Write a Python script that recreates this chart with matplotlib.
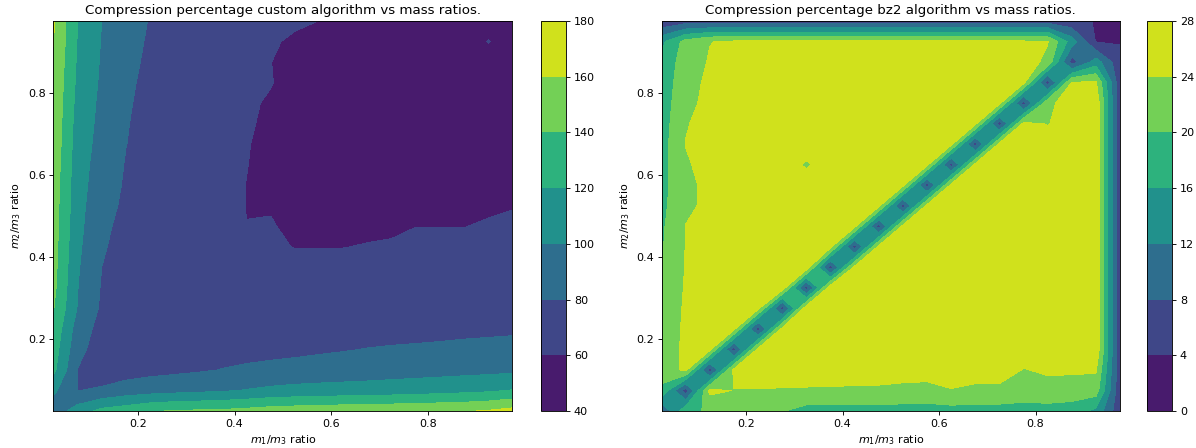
# Contour maps of compression percentage against mass ratios
import numpy as np
import matplotlib.pyplot as plt

# grid of mass ratios: m1/m3 along x, m2/m3 along y
m1_ratio = [0.025, 0.075, 0.125, 0.175, 0.225, 0.275, 0.325, 0.375, 0.425, 0.475,
            0.525, 0.575, 0.625, 0.675, 0.725, 0.775, 0.825, 0.875, 0.925, 0.975]
m2_ratio = [0.025, 0.075, 0.125, 0.175, 0.225, 0.275, 0.325, 0.375, 0.425, 0.475,
            0.525, 0.575, 0.625, 0.675, 0.725, 0.775, 0.825, 0.875, 0.925, 0.975]

# compression percentage of the custom algorithm, one row per m2/m3 value (bottom to top)
custom_pct = [
    [88, 109.4, 125.5, 131, 138, 141.5, 142.5, 143.5, 146, 149.6, 151, 152.5, 153.5, 154.5, 155.3, 156.5, 157.5, 158.5, 161.5, 167],
    [104, 79.5, 83, 89, 92, 94, 96, 98, 101, 104, 106, 107, 108, 109, 110, 111.5, 113, 115, 117, 121],
    [125, 79.5, 68, 71, 74, 76, 78, 80.5, 82.5, 84.5, 86, 87.5, 88.5, 89.5, 91, 92, 93, 94, 95, 96],
    [130, 86, 70, 68, 68.5, 69.5, 71, 74, 74.5, 75, 76, 77.5, 79, 80.5, 81.5, 82, 82.5, 83, 83.5, 84],
    [135, 91, 73, 67, 66, 66, 67, 68, 69, 70, 71, 72, 73, 73.5, 74, 75, 76, 77, 77.5, 78],
    [141, 99, 77, 70, 67, 65.5, 65, 65.5, 66, 66.5, 67, 67.5, 68, 68.5, 69, 69.5, 70, 70.5, 71, 71.5],
    [145, 100.5, 78.5, 72, 68.5, 66.5, 65.5, 65, 65, 65, 65, 65, 65.5, 66, 66.5, 67, 67.5, 68, 68.5, 69],
    [147, 102, 80, 74, 69.5, 67, 66, 65, 64, 63.5, 63, 63, 63, 63.5, 64, 64.5, 65, 65, 65.5, 66],
    [148, 104, 81.5, 75, 70, 67.5, 66, 64.5, 62.5, 61.5, 59.7, 59.7, 59.8, 60.5, 61, 62, 62.5, 62.5, 63, 64],
    [149.5, 106, 83, 76, 70.5, 67.5, 65.5, 63.5, 60.1, 61, 57, 56.5, 57, 58, 58.5, 59.9, 59.8, 59.8, 61, 62],
    [150, 107, 86, 77, 71, 68, 66, 63, 59.8, 59, 55, 54, 54, 54.5, 55, 56, 56.5, 57, 58.5, 59.5],
    [151, 108, 89, 78, 72, 68.5, 66, 63, 59.8, 56, 53, 52, 52, 52, 52.5, 53, 53.5, 54, 55, 56],
    [152.5, 109, 91, 79, 73, 69, 66.5, 63.5, 60.3, 56, 52.5, 51.5, 51, 51, 51, 51.5, 52, 52.5, 53, 54],
    [154, 110.5, 93, 80.3, 74, 70, 67, 64, 60.8, 56, 52.5, 51, 50.5, 50.5, 50.5, 51, 51, 51.5, 52, 53],
    [155, 112, 94.5, 81, 74.5, 70.5, 67.5, 64.5, 61.5, 57.5, 53, 51, 50.5, 50, 50, 50.5, 50.5, 51, 51.5, 52.5],
    [156, 114, 95.5, 82, 75, 71, 68, 65, 62, 58.5, 54, 51.5, 50.5, 50, 50, 50, 50.5, 51, 51.5, 52],
    [157, 116, 97, 83, 76, 72, 69, 66, 63, 60.6, 55, 52, 51, 50.5, 50, 50, 50.5, 51, 52, 52.5],
    [158.5, 117.5, 98, 84.5, 77, 73, 70, 67, 64, 60.2, 55, 53, 52, 51, 50.5, 50.5, 51, 51.5, 54, 53],
    [160.5, 119, 99, 86, 78, 74, 71, 68, 65, 61.5, 58, 55, 53.5, 52.5, 52, 52, 52, 53, 60.5, 54],
    [162, 120, 100, 87, 79.2, 75, 72, 69, 66, 63.5, 62, 59.9, 57, 55, 54, 54, 54, 54.5, 55, 55.5],
]

# compression percentage of bz2, same layout
bz2_pct = [
    [8, 19, 20.5, 20.4, 20.3, 20.2, 18.5, 18.5, 18.5, 18.5, 18.5, 18.5, 18.5, 18.5, 18.5, 18.5, 18.5, 18, 15, 5],
    [19.5, 6, 25, 23.9, 23.8, 23.7, 23.6, 23.5, 23.4, 23.3, 22.8, 22.5, 23.8, 23.0, 23.0, 22.0, 22.5, 22.3, 22.0, 5],
    [21, 25, 6, 25, 26, 26, 26, 26, 26, 26, 26, 26, 26, 26, 26, 23.8, 24.6, 24.5, 24.4, 5],
    [21, 25, 25, 6, 25, 26, 26, 26, 26, 26, 26, 26, 26, 26, 26, 26, 26, 26, 27, 5],
    [21, 24.8, 26, 25, 6, 25, 26, 26, 26, 26, 26, 26, 26, 26, 26, 26, 26, 26, 27, 5],
    [20.8, 24.6, 26, 26, 25, 6, 26.5, 26, 26, 26, 26, 26, 26, 26, 26, 26, 26, 26, 27, 5],
    [20.3, 24.4, 26, 26, 26, 26.5, 6, 26.5, 26, 26, 26, 26, 26, 26, 26, 26, 26, 26, 27, 5],
    [19.9, 24.2, 26, 26, 26, 26, 26.5, 6, 25, 26, 26, 26, 26, 26, 26, 26, 26, 26, 27, 5],
    [19.6, 24.1, 26, 26, 26, 26, 26, 25, 6, 25, 26, 26, 26, 26, 26, 26, 26, 26, 27, 5],
    [19.3, 24.1, 26, 26, 26, 26, 26, 26, 25, 6, 25, 26, 26, 26, 26, 26, 26, 26, 27, 5],
    [19.0, 23.1, 25, 26, 26, 26, 26, 26, 26, 25, 6, 25, 26, 26, 26, 26, 26, 26, 27, 5],
    [18.7, 23, 25, 26, 26, 26, 26, 26, 26, 26, 25, 6, 25, 26, 26, 26, 26, 26, 27, 5],
    [18.5, 23.5, 25.5, 26, 26, 26, 23.5, 26, 26, 26, 26, 25, 6, 25, 26, 26, 26, 26, 27, 5],
    [18.3, 24.1, 26, 26, 26, 26, 26, 26, 26, 26, 26, 26, 25, 6, 25, 26, 26, 26, 27, 5],
    [18.0, 23.7, 25.5, 26, 26, 26, 26, 26, 26, 26, 26, 26, 26, 25, 6, 25, 23.8, 26, 27, 5],
    [17.8, 23, 25, 26, 26, 26, 26, 26, 26, 26, 26, 26, 26, 26, 25, 6, 23, 26, 27, 5],
    [17.5, 22.5, 24.8, 26, 26, 26, 26, 26, 26, 26, 26, 26, 26, 26, 26, 25, 6, 24.3, 24.5, 5],
    [17, 22, 24.3, 26, 26, 26, 26, 26, 26, 26, 26, 26, 26, 26, 26, 26, 23, 6, 14, 5],
    [15, 21.4, 23.9, 24.5, 24.5, 24.5, 24.5, 24.5, 24.5, 24.5, 24.5, 24.5, 24.5, 24.5, 24.5, 24.5, 24.2, 14, 3.8, 3.8],
    [4.5, 6, 6, 6, 6, 6, 6, 6, 6, 6, 6, 6, 6, 6, 6, 6, 6, 5, 3.8, 1],
]

custom_levels = [40, 60, 80, 100, 120, 140, 160, 180]
bz2_levels = [0, 4, 8, 12, 16, 20, 24, 28]

X, Y = np.meshgrid(m1_ratio, m2_ratio)

# the original was saved at a lower resolution, so draw at 80 dpi
fig = plt.figure(figsize=(14.95, 5.6), dpi=80)

# left map: custom algorithm
ax1 = fig.add_axes([0.0446, 0.0826, 0.3838, 0.8705])
cs1 = ax1.contourf(X, Y, np.array(custom_pct), levels=custom_levels, cmap='viridis')
ax1.set_title('Compression percentage custom algorithm vs mass ratios.')
ax1.set_xlabel(r'$m_1/m_3$ ratio')
ax1.set_ylabel(r'$m_2/m_3$ ratio')
cax1 = fig.add_axes([541 / 1196, 0.0826, 25 / 1196, 0.8705])
fig.colorbar(cs1, cax=cax1)

# right map: bz2
ax2 = fig.add_axes([0.5531, 0.0826, 0.3834, 0.8705])
cs2 = ax2.contourf(X, Y, np.array(bz2_pct), levels=bz2_levels, cmap='viridis')
ax2.set_title('Compression percentage bz2 algorithm vs mass ratios.')
ax2.set_xlabel(r'$m_1/m_3$ ratio')
ax2.set_ylabel(r'$m_2/m_3$ ratio')
cax2 = fig.add_axes([1147 / 1196, 0.0826, 25 / 1196, 0.8705])
fig.colorbar(cs2, cax=cax2)

fig.savefig('out.png', dpi=80)
